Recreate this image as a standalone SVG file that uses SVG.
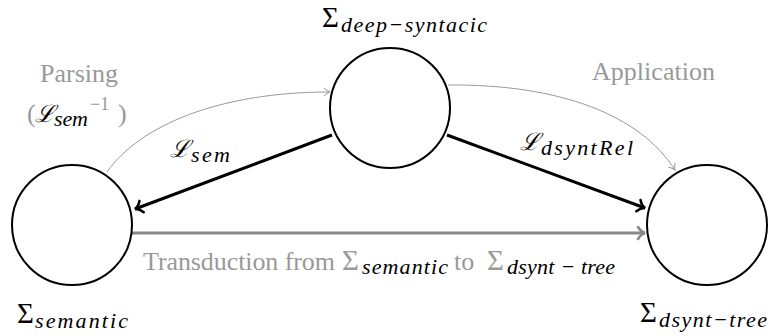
<svg xmlns="http://www.w3.org/2000/svg" width="772" height="336" viewBox="0 0 772 336">
<style>
.node{fill:#fff;stroke:#000;stroke-width:2}
.t{font-family:"Liberation Serif","DejaVu Serif",serif;font-size:26px;fill:#000}
.S{font-family:"Liberation Serif","DejaVu Serif",serif;font-size:29px;fill:#000}
.g{fill:#999}
.s{font-family:"Liberation Serif","DejaVu Serif",serif;font-style:italic;font-size:22px;fill:#000}
.L{font-family:"DejaVu Serif","Liberation Serif",serif;font-style:italic;font-size:24px;fill:#000}
.sup{font-family:"Liberation Serif","DejaVu Serif",serif;font-size:18px}
.thick{fill:none;stroke:#000;stroke-width:3}
.gthick{fill:none;stroke:#888;stroke-width:3}
.thin{fill:none;stroke:#999;stroke-width:1}
</style>
<defs>
<marker id="ab" viewBox="0 0 10 14" refX="9" refY="7" markerWidth="10" markerHeight="14" orient="auto" markerUnits="userSpaceOnUse" overflow="visible">
<path d="M2,1 Q5,6 9,7 Q5,8 2,13" fill="none" stroke="#000" stroke-width="2.6" stroke-linecap="round"/>
</marker>
<marker id="ag" viewBox="0 0 10 14" refX="9" refY="7" markerWidth="10" markerHeight="14" orient="auto" markerUnits="userSpaceOnUse" overflow="visible">
<path d="M2,1 Q5,6 9,7 Q5,8 2,13" fill="none" stroke="#888" stroke-width="2.6" stroke-linecap="round"/>
</marker>
<marker id="at" viewBox="0 0 10 10" refX="9" refY="5" markerWidth="10" markerHeight="10" orient="auto" markerUnits="userSpaceOnUse" overflow="visible">
<path d="M3,1 Q6,4 9,5 Q6,6 3,9" fill="none" stroke="#999" stroke-width="1"/>
</marker>
</defs>
<g id="connectors">
<path class="thick" d="M332,135 L135,209" marker-end="url(#ab)"/>
<path class="thick" d="M447,135 L645,208" marker-end="url(#ab)"/>
<path class="gthick" d="M132,233 L645,233" marker-end="url(#ag)"/>
<path class="thin" d="M107,172 C140,125 220,92 330,92" marker-end="url(#at)"/>
<path class="thin" d="M448,85 C560,84 640,115 675,170" marker-end="url(#at)"/>
</g>
<g id="node-semantic">
<circle class="node" cx="72" cy="225" r="60"/>
<text class="S" x="17" y="323">Σ</text>
<text class="s" x="35" y="328" textLength="93" lengthAdjust="spacing">semantic</text>
</g>
<g id="node-deep-syntactic">
<circle class="node" cx="390" cy="108" r="60"/>
<text class="S" x="322" y="27">Σ</text>
<text class="s" x="341" y="32" textLength="146" lengthAdjust="spacing">deep−syntacic</text>
</g>
<g id="node-dsynt-tree">
<circle class="node" cx="707" cy="225" r="60"/>
<text class="S" x="640" y="322">Σ</text>
<text class="s" x="659" y="327" textLength="108" lengthAdjust="spacing">dsynt−tree</text>
</g>
<g id="labels">
<text class="t g" x="40" y="82" textLength="78" lengthAdjust="spacing">Parsing</text>
<text class="t g" x="27" y="122">(</text>
<text class="L g" x="35" y="122">ℒ</text>
<text class="s g" x="54" y="126" textLength="34" lengthAdjust="spacing">sem</text>
<text class="sup g" x="90" y="110">−1</text>
<text class="t g" x="118" y="122">)</text>
<text class="L" x="170" y="157">ℒ</text>
<text class="s" x="191" y="162" textLength="39" lengthAdjust="spacing">sem</text>
<text class="L" x="520" y="150">ℒ</text>
<text class="s" x="541" y="155" textLength="92" lengthAdjust="spacing">dsyntRel</text>
<text class="t g" x="592" y="80" textLength="123" lengthAdjust="spacing">Application</text>
<text class="t g" x="143" y="270" textLength="192" lengthAdjust="spacing">Transduction from</text>
<text class="S g" x="342" y="270">Σ</text>
<text class="s g" x="362" y="274" textLength="86" lengthAdjust="spacing">semantic</text>
<text class="t g" x="454" y="270">to</text>
<text class="S g" x="487" y="270">Σ</text>
<text class="s g" x="507" y="274" textLength="108" lengthAdjust="spacing">dsynt − tree</text>
</g>
</svg>
